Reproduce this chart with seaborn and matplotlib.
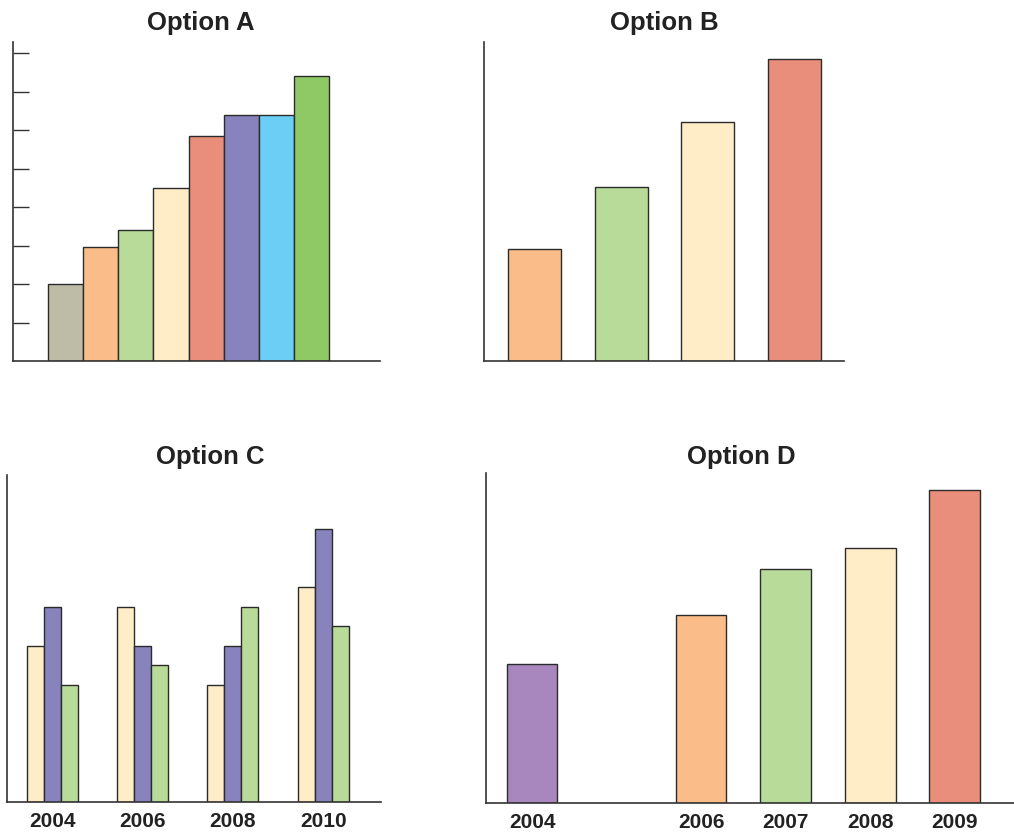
import seaborn as sns
import matplotlib.pyplot as plt
import pandas as pd

# ---- data ----
a_labels = ["1", "2", "3", "4", "5", "6", "7", "8"]
a_values = [2.0, 2.95, 3.4, 4.5, 5.85, 6.4, 6.4, 7.4]
a_colors = ["#BEBCA7", "#FABD89", "#B9DB9A", "#FFEDC8", "#E98E7B", "#8883BC", "#6BCFF5", "#8FC965"]

b_labels = ["1", "2", "3", "4"]
b_values = [2.91, 4.52, 6.21, 7.84]
b_colors = ["#FABD89", "#B9DB9A", "#FFEDC8", "#E98E7B"]

c_years = ["2004", "2006", "2008", "2010"]
c_series = ["s1", "s2", "s3"]
c_s1 = [4.0, 5.0, 3.0, 5.5]
c_s2 = [5.0, 4.0, 4.0, 7.0]
c_s3 = [3.0, 3.5, 5.0, 4.5]
c_colors = ["#FFEDC8", "#8883BC", "#B9DB9A"]

d_years = [2004, 2006, 2007, 2008, 2009]
d_values = [3.56, 4.82, 6.0, 6.54, 8.03]
d_colors = ["#A787BD", "#FABD89", "#B9DB9A", "#FFEDC8", "#E98E7B"]

sns.set_style("white")
plt.rcParams["font.family"] = ["Liberation Sans", "DejaVu Sans"]

W, H = 1014, 834
fig = plt.figure(figsize=(W / 100, H / 100), dpi=100)


def px_axes(x0, y0, x1, y1):
    # axes from pixel box (top-left origin)
    return fig.add_axes([x0 / W, 1 - y1 / H, (x1 - x0) / W, (y1 - y0) / H])


def style(ax):
    sns.despine(ax=ax)
    for s in ["left", "bottom"]:
        ax.spines[s].set_color("#333333")
        ax.spines[s].set_linewidth(1.2)
    ax.set_xlabel("")
    ax.set_ylabel("")
    ax.set_yticks([])


edge = dict(edgecolor="#2b2b2b", linewidth=1.0, saturation=1)
ink = "#222222"

# Option A
ax = px_axes(13, 42, 380, 361)
sns.barplot(x=a_labels, y=a_values, hue=a_labels, palette=a_colors, legend=False,
            width=1.0, ax=ax, **edge)
style(ax)
ax.set_xlim(-1.5, 8.95)
ax.set_ylim(0, 8.29)
ax.set_yticks(range(1, 9))
ax.set_yticklabels([])
ax.set_xticks([])
ax.tick_params(axis="y", direction="in", length=11.5, width=1.0, color="#333333", left=True)

# Option B
ax = px_axes(484, 42, 844, 361)
sns.barplot(x=b_labels, y=b_values, hue=b_labels, palette=b_colors, legend=False,
            width=0.61, ax=ax, **edge)
style(ax)
ax.set_xlim(-0.58, 3.57)
ax.set_ylim(0, 8.29)
ax.set_xticks([])

# Option C
c_df = pd.DataFrame({
    "year": c_years * 3,
    "series": [s for s in c_series for _ in c_years],
    "value": c_s1 + c_s2 + c_s3,
})
ax = px_axes(7, 475, 381, 802)
sns.barplot(data=c_df, x="year", y="value", hue="series", palette=c_colors,
            legend=False, width=0.565, ax=ax, **edge)
style(ax)
ax.set_xlim(-0.504, 3.64)
ax.set_ylim(0, 8.38)
ax.tick_params(axis="x", length=0, pad=7, labelsize=15, labelcolor=ink)
for t in ax.get_xticklabels():
    t.set_fontweight("bold")

# Option D
d_df = pd.DataFrame({"year": d_years, "value": d_values, "key": [str(y) for y in d_years]})
ax = px_axes(486, 473, 1014, 803)
sns.barplot(data=d_df, x="year", y="value", hue="key", palette=d_colors,
            legend=False, native_scale=True, width=0.6, ax=ax, **edge)
style(ax)
ax.set_xlim(2003.456, 2009.7)
ax.set_ylim(0, 8.46)
ax.set_xticks(d_years)
ax.set_xticklabels([str(y) for y in d_years], fontweight="bold")
ax.tick_params(axis="x", length=0, pad=7, labelsize=15, labelcolor=ink)

# titles
for txt, x, y in [("Option A", 201, 30), ("Option B", 664, 30),
                  ("Option C", 210, 464), ("Option D", 741, 464)]:
    fig.text(x / W, 1 - y / H, txt, ha="center", va="baseline",
             fontsize=18.5, fontweight="bold", color=ink)

fig.savefig("out.png", dpi=100)
